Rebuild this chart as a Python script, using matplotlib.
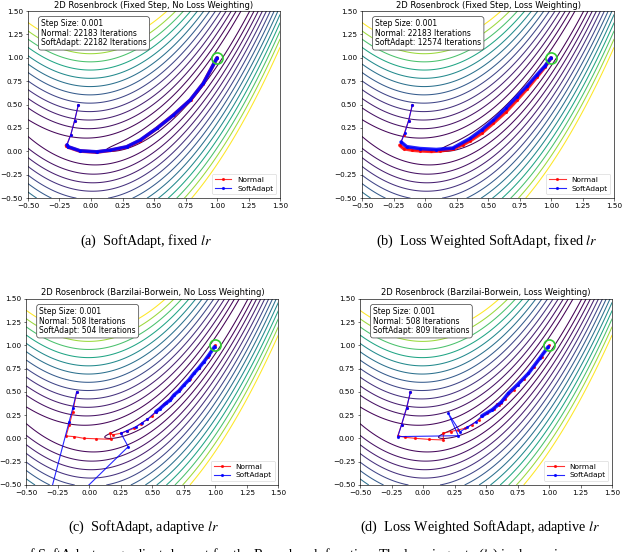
import numpy as np
import matplotlib
matplotlib.use('Agg')
import matplotlib.pyplot as plt

plt.rcParams['mathtext.fontset'] = 'stix'

# contour levels of the Rosenbrock surface
levels = [0.77, 3.06, 6.9, 12.25, 19.1, 27.6, 37.5, 49.0, 62.0, 76.6, 92.6, 110.0, 129.4]
ticks = [-0.5, -0.25, 0.0, 0.25, 0.5, 0.75, 1.0, 1.25, 1.5]

titles = ['2D Rosenbrock (Fixed Step, No Loss Weighting)',
          '2D Rosenbrock (Fixed Step, Loss Weighting)',
          '2D Rosenbrock (Barzilai-Borwein, No Loss Weighting)',
          '2D Rosenbrock (Barzilai-Borwein, Loss Weighting)']
captions = [r'(a)  SoftAdapt, fixed $lr$',
            r'(b)  Loss Weighted SoftAdapt, fixed $lr$',
            r'(c)  SoftAdapt, adaptive $lr$',
            r'(d)  Loss Weighted SoftAdapt, adaptive $lr$']
step_sizes = ['0.001', '0.001', '0.001', '0.001']
normal_iters = [22183, 22183, 508, 508]
softadapt_iters = [22182, 12574, 504, 809]
minimum = (1.0, 1.0)

# optimisation paths (x, y)
normal_a_x = [-0.10, -0.13, -0.16, -0.195, -0.18, -0.09, 0.04, 0.15, 0.28, 0.39, 0.52, 0.655, 0.79, 0.89, 1.0]
normal_a_y = [0.50, 0.33, 0.18, 0.062, 0.045, 0.004, -0.008, 0.01, 0.045, 0.115, 0.245, 0.39, 0.55, 0.725, 1.0]
soft_a_x = [-0.10, -0.13, -0.16, -0.19, -0.18, -0.087, 0.045, 0.151, 0.283, 0.389, 0.521, 0.654, 0.786, 0.891, 1.0]
soft_a_y = [0.50, 0.33, 0.18, 0.07, 0.049, 0.006, -0.005, 0.013, 0.049, 0.12, 0.245, 0.388, 0.548, 0.727, 1.0]

normal_b_x = [-0.10, -0.13, -0.17, -0.20, -0.17, -0.10, -0.04, 0.05, 0.12, 0.22, 0.30, 0.36, 0.45, 0.54, 0.64, 0.73, 0.81, 0.89, 0.95, 1.0]
normal_b_y = [0.50, 0.33, 0.17, 0.065, 0.03, 0.013, 0.006, 0.0, 0.005, 0.025, 0.07, 0.115, 0.195, 0.30, 0.42, 0.55, 0.67, 0.80, 0.90, 1.0]
soft_b_x = [-0.10, -0.13, -0.16, -0.19, -0.145, -0.04, 0.09, 0.22, 0.357, 0.45, 0.542, 0.64, 0.728, 0.81, 0.886, 0.95, 1.0]
soft_b_y = [0.50, 0.33, 0.20, 0.10, 0.05, 0.03, 0.02, 0.035, 0.138, 0.23, 0.334, 0.46, 0.584, 0.70, 0.816, 0.91, 1.0]

normal_c_x = [-0.10, -0.131, -0.16, -0.184, -0.12, -0.044, 0.05, 0.172, 0.165, 0.19, 0.25, 0.30, 0.356, 0.41, 0.46, 0.50, 0.528, 0.593, 0.65, 0.72, 0.80, 0.87, 0.94, 1.0]
normal_c_y = [0.50, 0.288, 0.14, 0.027, 0.02, 0.002, -0.003, -0.009, 0.056, 0.04, 0.056, 0.08, 0.11, 0.16, 0.206, 0.24, 0.288, 0.371, 0.44, 0.53, 0.64, 0.76, 0.88, 1.0]
soft_c_x = [-0.10, -0.13, -0.16, -0.39, 0.309, 0.251, 0.30, 0.37, 0.42, 0.46, 0.528, 0.56, 0.607, 0.64, 0.672, 0.71, 0.751, 0.79, 0.83, 0.87, 0.91, 0.95, 0.994]
soft_c_y = [0.50, 0.33, 0.18, -1.01, -0.088, 0.056, 0.085, 0.127, 0.17, 0.206, 0.288, 0.32, 0.378, 0.41, 0.468, 0.51, 0.575, 0.63, 0.70, 0.76, 0.826, 0.90, 0.987]

normal_d_x = [-0.10, -0.13, -0.17, -0.20, -0.14, -0.063, 0.05, 0.161, 0.161, 0.22, 0.274, 0.333, 0.39, 0.44, 0.505, 0.56, 0.585, 0.62, 0.60, 0.65, 0.72, 0.80, 0.88, 0.94, 1.0]
normal_d_y = [0.50, 0.33, 0.15, 0.03, 0.012, 0.002, -0.01, -0.016, 0.06, 0.075, 0.09, 0.11, 0.15, 0.20, 0.27, 0.32, 0.37, 0.38, 0.355, 0.42, 0.52, 0.64, 0.77, 0.88, 1.0]
soft_d_x = [-0.10, -0.13, -0.17, -0.20, 0.28, 0.20, 0.294, 0.35, 0.42, 0.466, 0.55, 0.62, 0.677, 0.75, 0.836, 0.93, 0.994]
soft_d_y = [0.50, 0.33, 0.15, 0.02, 0.03, 0.271, 0.073, 0.12, 0.18, 0.242, 0.31, 0.39, 0.486, 0.58, 0.70, 0.87, 0.987]

paths = [
    (normal_a_x, normal_a_y, soft_a_x, soft_a_y),
    (normal_b_x, normal_b_y, soft_b_x, soft_b_y),
    (normal_c_x, normal_c_y, soft_c_x, soft_c_y),
    (normal_d_x, normal_d_y, soft_d_x, soft_d_y),
]
# index from which the many small steps pile up into a thick band (normal, softadapt)
dense_from = [(3, 3), (3, 3), (None, 10), (None, 9)]

# axes boxes in figure fractions [left, bottom, width, height]
boxes = [[0.0437, 0.641, 0.394, 0.339],
         [0.5656, 0.641, 0.394, 0.339],
         [0.0410, 0.1214, 0.394, 0.337],
         [0.5625, 0.1214, 0.394, 0.337]]
caption_pos = [(0.228, 0.557), (0.761, 0.557), (0.224, 0.038), (0.750, 0.038)]

xs = np.linspace(-0.5, 1.5, 500)
X, Y = np.meshgrid(xs, xs)
Z = (1 - X) ** 2 + 100 * (Y - X ** 2) ** 2

fig = plt.figure(figsize=(6.4, 5.52), dpi=100)

for i in range(4):
    ax = fig.add_axes(boxes[i])
    ax.contour(X, Y, Z, levels=levels, cmap='viridis', linewidths=0.75)
    nx, ny, sx, sy = paths[i]
    ax.plot(nx, ny, color='red', alpha=0.8, lw=0.8, marker='.', ms=2.5, label='Normal', zorder=3)
    ax.plot(sx, sy, color='blue', alpha=0.85, lw=0.8, marker='.', ms=2.5, label='SoftAdapt', zorder=4)
    dn, ds = dense_from[i]
    if dn is not None:
        ax.plot(nx[dn:], ny[dn:], color='red', alpha=0.8, lw=2.6, solid_capstyle='round', zorder=3)
    if ds is not None:
        ax.plot(sx[ds:], sy[ds:], color='blue', alpha=0.85, lw=2.6, solid_capstyle='round', zorder=4)
    ax.plot([minimum[0]], [minimum[1]], marker='o', ms=8, mfc='none', mec='limegreen', mew=1.2, zorder=5)

    ax.set_xlim(-0.5, 1.5)
    ax.set_ylim(-0.5, 1.5)
    ax.set_xticks(ticks)
    ax.set_yticks(ticks)
    ax.tick_params(labelsize=5.2, length=1.8, width=0.4, pad=1.8)
    for s in ax.spines.values():
        s.set_linewidth(0.45)
    ax.set_title(titles[i], fontsize=6.0, pad=2.5)

    info = (f'Step Size: {step_sizes[i]}\nNormal: {normal_iters[i]} Iterations\n'
            f'SoftAdapt: {softadapt_iters[i]} Iterations')
    ax.text(0.052, 0.956, info, transform=ax.transAxes, fontsize=5.5, va='top', ha='left',
            linespacing=1.08, zorder=6,
            bbox=dict(boxstyle='round,pad=0.35', fc='white', ec='0.3', lw=0.55))
    ax.legend(loc='lower right', fontsize=5.3, frameon=True, framealpha=0.9,
              borderpad=0.4, handlelength=2.2, labelspacing=0.35, edgecolor='0.8').get_frame().set_linewidth(0.4)

    fig.text(caption_pos[i][0], caption_pos[i][1], captions[i], ha='center', va='baseline',
             fontfamily='Liberation Serif', fontsize=10.2)

fig.text(0.034, -0.013, r'of SoftAdapt on gradient descent for the Rosenbrock function. The learning rate ($lr$) is shown in',
         ha='left', va='baseline', fontfamily='Liberation Serif', fontsize=10.2)

fig.savefig('out.png', dpi=100)
